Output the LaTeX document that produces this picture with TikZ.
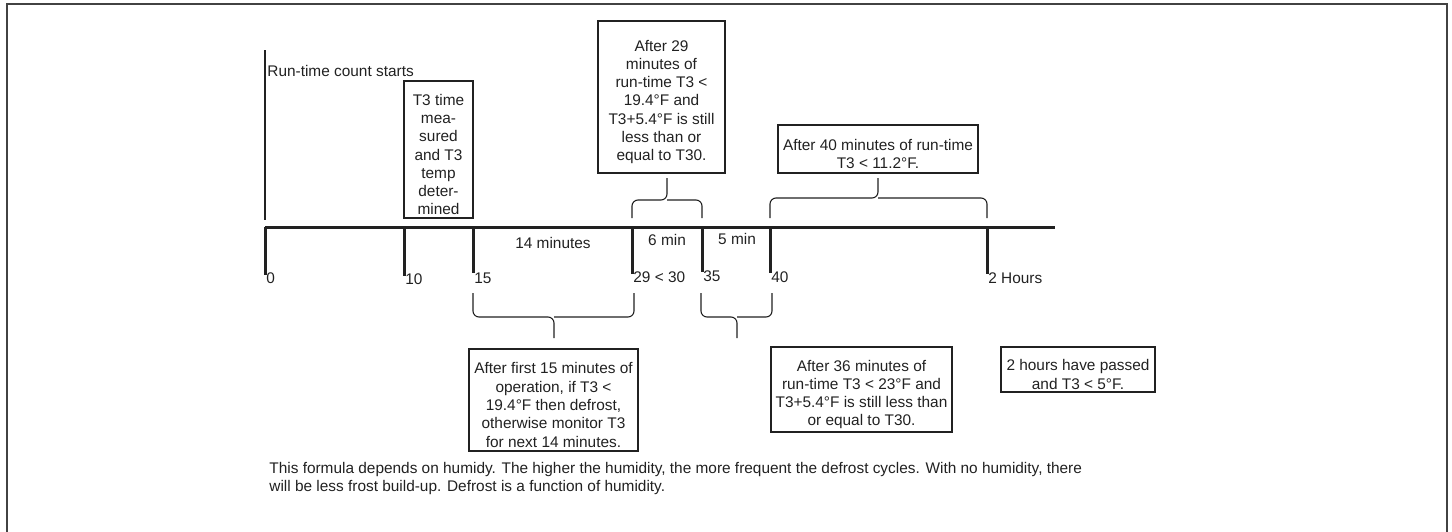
\documentclass[tikz,border=0pt]{standalone}
\usepackage{fontspec}
\setmainfont{Liberation Sans}
\usetikzlibrary{fit}
\definecolor{ink}{rgb}{0.13,0.13,0.13}
\begin{document}
\begin{tikzpicture}[x=0.5pt,y=-0.5pt,
  txt/.style={font=\fontsize{7.7}{9.15}\selectfont, text=ink, inner sep=0pt},
  lbl/.style={txt, text height=5.5pt, text depth=0pt},
  box/.style={draw=ink, line width=0.85pt, inner sep=0pt},
  boxtext/.style={txt, align=center},
  axisline/.style={draw=ink, line width=1.5pt},
  tickline/.style={draw=ink, line width=1.5pt},
  bracket/.style={draw=ink, line width=0.55pt, rounded corners=3pt},
  frame/.style={draw=ink!85, line width=0.8pt}]
\useasboundingbox (0,0) rectangle (1452,531);
\begin{scope}
\clip (0,0) rectangle (1452,531);
\draw[frame] (7,4) rectangle (1447,560);
\end{scope}

% axis coordinates
\coordinate (a0) at (265,227);
\coordinate (aend) at (1055,227);
\coordinate (t0) at (265,227);   \coordinate (b0) at (265,275);
\coordinate (t10) at (404,227);  \coordinate (b10) at (404,276);
\coordinate (t15) at (473,227);  \coordinate (b15) at (473,273);
\coordinate (t29) at (632,227);  \coordinate (b29) at (632,274);
\coordinate (t35) at (702,227);  \coordinate (b35) at (702,272);
\coordinate (t40) at (770,227);  \coordinate (b40) at (770,273);
\coordinate (t2h) at (987,227);  \coordinate (b2h) at (987,274);
\coordinate (rs) at (265,50);    \coordinate (re) at (265,220);

\draw[axisline] (a0) -- (aend);
\draw[draw=ink, line width=1.2pt] (rs) -- (re);
\foreach \n in {0,10,15,29,35,40,2h} \draw[tickline] (t\n) -- (b\n);

% tick labels
\node[lbl, anchor=west] (l0) at (266,278) {0};
\node[lbl, anchor=west] (l10) at (405,279) {10};
\node[lbl, anchor=west] (l15) at (474,278) {15};
\node[lbl, anchor=west] (l29) at (633,277) {29 < 30};
\node[lbl, anchor=west] (l35) at (703,276) {35};
\node[lbl, anchor=west] (l40) at (771,277) {40};
\node[lbl, anchor=west] (l2h) at (988,278) {2 Hours};

\node[lbl, anchor=west] (start) at (267,71) {Run-time count starts};
\node[lbl] (m14) at (553,243) {14 minutes};
\node[lbl] (m6) at (667,240) {6 min};
\node[lbl] (m5) at (737,239) {5 min};

% boxes
\node[box, fit={(404,81) (473,218)}] (bt3) {};
\node[boxtext] (bt3t) at ([yshift=-2.5pt]bt3.center) {T3 time\\mea-\\sured\\and T3\\temp\\deter-\\mined};
\node[box, fit={(598,21) (725,173)}] (b29box) {};
\node[boxtext] (b29t) at ([yshift=-2.5pt]b29box.center) {After 29\\minutes of\\run-time T3 <\\19.4°F and\\T3+5.4°F is still\\less than or\\equal to T30.};
\node[box, fit={(778,125) (978,173)}] (b40box) {};
\node[boxtext] (b40t) at ([yshift=-2.5pt]b40box.center) {After 40 minutes of run-time\\T3 < 11.2°F.};
\node[box, fit={(469,349) (638,451)}] (b15box) {};
\node[boxtext] (b15t) at ([yshift=-2.5pt]b15box.center) {After first 15 minutes of\\operation, if T3 <\\19.4°F then defrost,\\otherwise monitor T3\\for next 14 minutes.};
\node[box, fit={(771,347) (952,432)}] (b36box) {};
\node[boxtext] (b36t) at ([yshift=-2.5pt]b36box.center) {After 36 minutes of\\run-time T3 < 23°F and\\T3+5.4°F is still less than\\or equal to T30.};
\node[box, fit={(1001,347) (1155,392)}] (b2hbox) {};
\node[boxtext] (b2ht) at ([yshift=-2.5pt]b2hbox.center) {2 hours have passed\\and T3 < 5°F.};

% upper brackets
\draw[bracket] (632,218) -- (632,200) -- (667,200) -- (667,178);
\draw[bracket] (702,218) -- (702,200) -- (667,200);
\draw[bracket] (770,218) -- (770,198) -- (878,198) -- (878,178);
\draw[bracket] (987,218) -- (987,198) -- (878,198);
% lower brackets
\draw[bracket] (473,293) -- (473,317) -- (554,317) -- (554,338);
\draw[bracket] (634,293) -- (634,317) -- (554,317);
\draw[bracket] (701,293) -- (701,317) -- (737,317) -- (737,338);
\draw[bracket] (772,293) -- (772,317) -- (737,317);

\node[txt, anchor=north west, align=left] (note) at (269,462) {This formula depends on humidy. The higher the humidity, the more frequent the defrost cycles. With no humidity, there\\will be less frost build-up. Defrost is a function of humidity.};
\end{tikzpicture}
\end{document}
